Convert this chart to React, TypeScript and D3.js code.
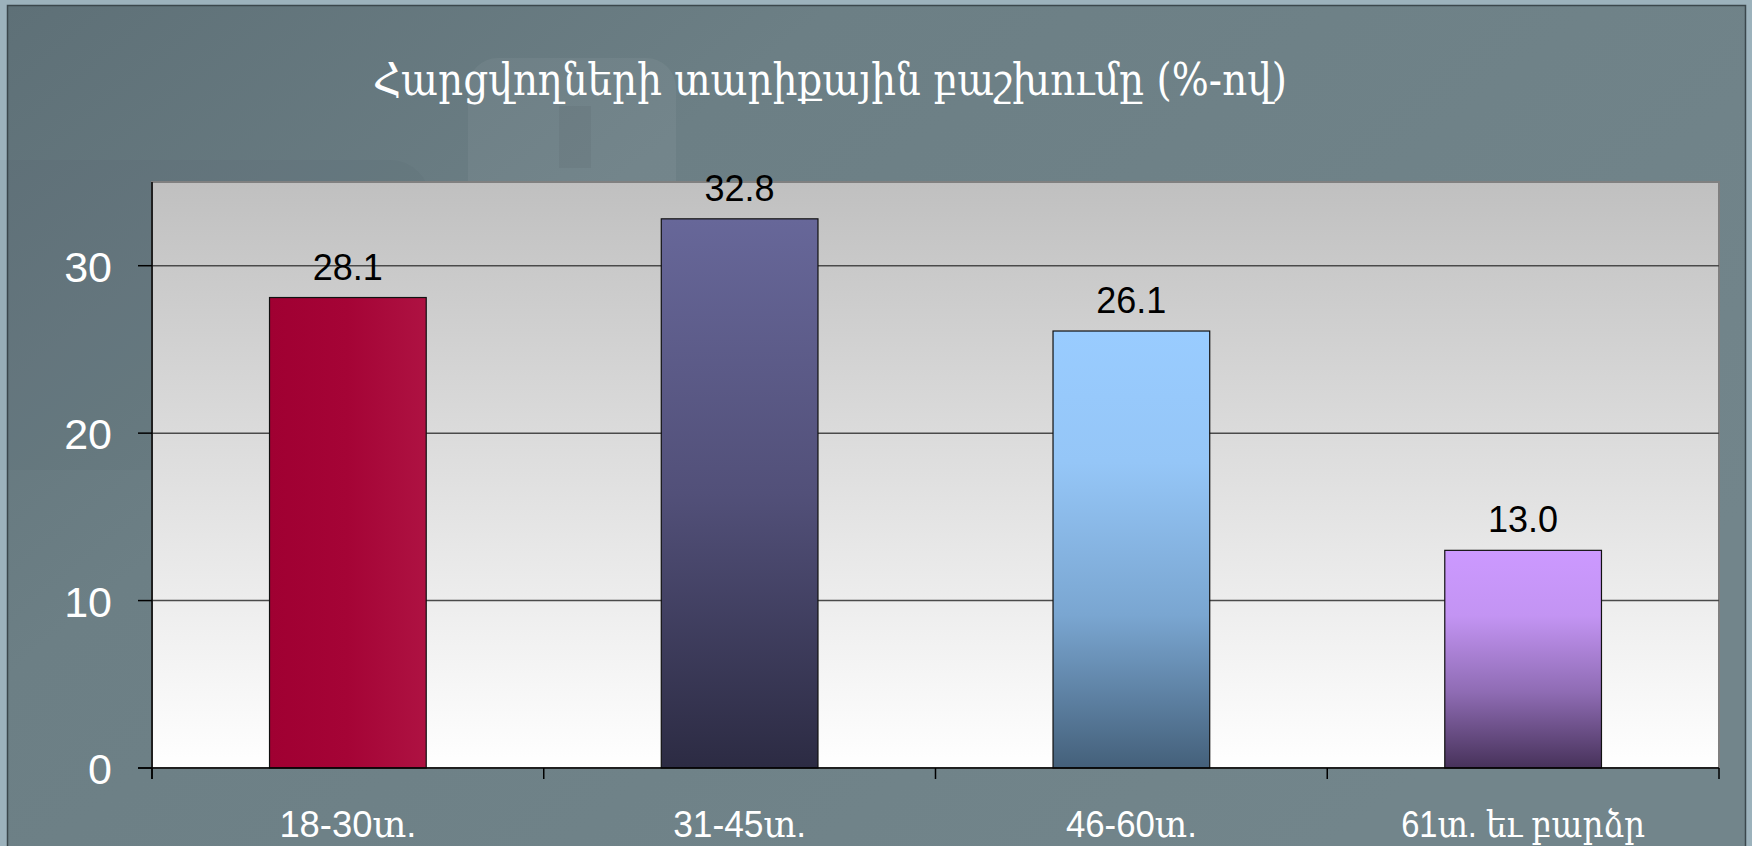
import React, { useEffect } from 'react';
import * as d3 from 'd3';

// values
const categories = ['18-30տ.', '31-45տ.', '46-60տ.', '61տ. եւ բարձր'];
const values = [28.1, 32.8, 26.1, 13.0];
const yTicks = [0, 10, 20, 30];
const title = 'Հարցվողների տարիքային բաշխումը (%-ով)';
// label widths as they appear in the reference (px)
const labelWidths = [137, 133, 131, 244];

// bar fills: [top/left, bottom/right]
const barFills = [
  { id: 'g0', dir: 'h', stops: [['0', '#a00032'], ['0.5', '#a50436'], ['1', '#ae1242']] },
  { id: 'g1', dir: 'v', stops: [['0', '#676799'], ['0.5', '#525079'], ['1', '#2c2b43']] },
  { id: 'g2', dir: 'v', stops: [['0', '#99ccff'], ['0.3', '#95c6f7'], ['0.65', '#7aa6d1'], ['1', '#44607a']] },
  { id: 'g3', dir: 'v', stops: [['0', '#cc99ff'], ['0.3', '#c394f3'], ['0.65', '#8f6cb4'], ['1', '#47325a']] },
];

const W = 1752;
const H = 846;
const plot = { left: 152, right: 1719, top: 182, bottom: 768 };

const App = () => {
  useEffect(() => {
    document.body.style.margin = '0';
  }, []);

  const x = d3.scaleBand<string>()
    .domain(categories)
    .range([plot.left, plot.right])
    .paddingInner(0.6)
    .paddingOuter(0.3);

  const y = d3.scaleLinear().domain([0, 35]).range([plot.bottom, plot.top]);

  // category boundaries for the x tick marks
  const xTickPos = d3.range(categories.length + 1).map(i => plot.left + i * (plot.right - plot.left) / categories.length);

  const numFont = "'Liberation Sans', Arial, 'DejaVu Serif', sans-serif";

  return (
    <svg width={W} height={H} style={{ position: 'absolute', left: 0, top: 0 }}>
      <defs>
        <linearGradient id="bgMain" x1="0" y1="0" x2="1" y2="0.6">
          <stop offset="0" stopColor="#5e7077" />
          <stop offset="0.35" stopColor="#6c7f85" />
          <stop offset="1" stopColor="#72858b" />
        </linearGradient>
        <linearGradient id="plotBg" x1="0" y1="0" x2="0" y2="1">
          <stop offset="0" stopColor="#c0c0c0" />
          <stop offset="1" stopColor="#ffffff" />
        </linearGradient>
        {barFills.map(f => (
          <linearGradient key={f.id} id={f.id} x1="0" y1="0" x2={f.dir === 'h' ? '1' : '0'} y2={f.dir === 'h' ? '0' : '1'}>
            {f.stops.map(([o, c]) => <stop key={o} offset={o} stopColor={c} />)}
          </linearGradient>
        ))}
      </defs>

      {/* slide background */}
      <rect x={0} y={0} width={W} height={H} fill="#9cb2bc" />
      <rect x={7.5} y={5.5} width={1738} height={H} fill="url(#bgMain)" stroke="#3b474c" strokeWidth={1.5} />
      {/* faint ghosted shapes behind */}
      <rect x={468} y={58} width={208} height={560} rx={30} fill="#ffffff" opacity={0.05} />
      <rect x={559} y={106} width={32} height={62} fill="#2f3c40" opacity={0.08} />
      <rect x={-40} y={160} width={470} height={310} rx={40} fill="#2f3c40" opacity={0.04} />

      {/* title */}
      <text x={373} y={95} textLength={914} lengthAdjust="spacingAndGlyphs"
        fill="#ffffff" fontFamily="'DejaVu Serif', serif" fontSize={44}>{title}</text>

      {/* plot area */}
      <rect x={plot.left} y={plot.top} width={plot.right - plot.left} height={plot.bottom - plot.top}
        fill="url(#plotBg)" stroke="#808080" strokeWidth={2} />

      {/* gridlines */}
      {yTicks.filter(t => t > 0).map(t => (
        <line key={t} x1={plot.left} x2={plot.right} y1={y(t)} y2={y(t)} stroke="#4a4a4a" strokeWidth={1.5} />
      ))}

      {/* bars */}
      {values.map((v, i) => (
        <rect key={categories[i]} x={x(categories[i])} y={y(v)} width={x.bandwidth()} height={y(0) - y(v)}
          fill={`url(#${barFills[i].id})`} stroke="#111" strokeWidth={1.2} />
      ))}

      {/* value labels */}
      {values.map((v, i) => (
        <text key={'v' + i} x={(x(categories[i]) ?? 0) + x.bandwidth() / 2} y={y(v) - 18}
          textAnchor="middle" fontFamily={numFont} fontSize={36} fill="#000">{v.toFixed(1)}</text>
      ))}

      {/* axes */}
      <line x1={plot.left} x2={plot.left} y1={plot.top} y2={plot.bottom + 11} stroke="#000" strokeWidth={1.5} />
      <line x1={plot.left - 14} x2={plot.right} y1={plot.bottom} y2={plot.bottom} stroke="#000" strokeWidth={1.5} />
      {yTicks.map(t => (
        <g key={'yt' + t}>
          <line x1={plot.left - 14} x2={plot.left} y1={y(t)} y2={y(t)} stroke="#000" strokeWidth={1.5} />
          <text x={112} y={y(t) + 16} textAnchor="end" fontFamily={numFont} fontSize={43} fill="#fff">{t}</text>
        </g>
      ))}
      {xTickPos.map((p, i) => (
        <line key={'xt' + i} x1={p} x2={p} y1={plot.bottom} y2={plot.bottom + 11} stroke="#000" strokeWidth={1.5} />
      ))}
      {categories.map((c, i) => (
        <text key={c} x={(x(c) ?? 0) + x.bandwidth() / 2} y={837} textAnchor="middle"
          textLength={labelWidths[i]} lengthAdjust="spacingAndGlyphs"
          fontFamily={numFont} fontSize={37} fill="#fff">{c}</text>
      ))}
    </svg>
  );
};

export default App;
